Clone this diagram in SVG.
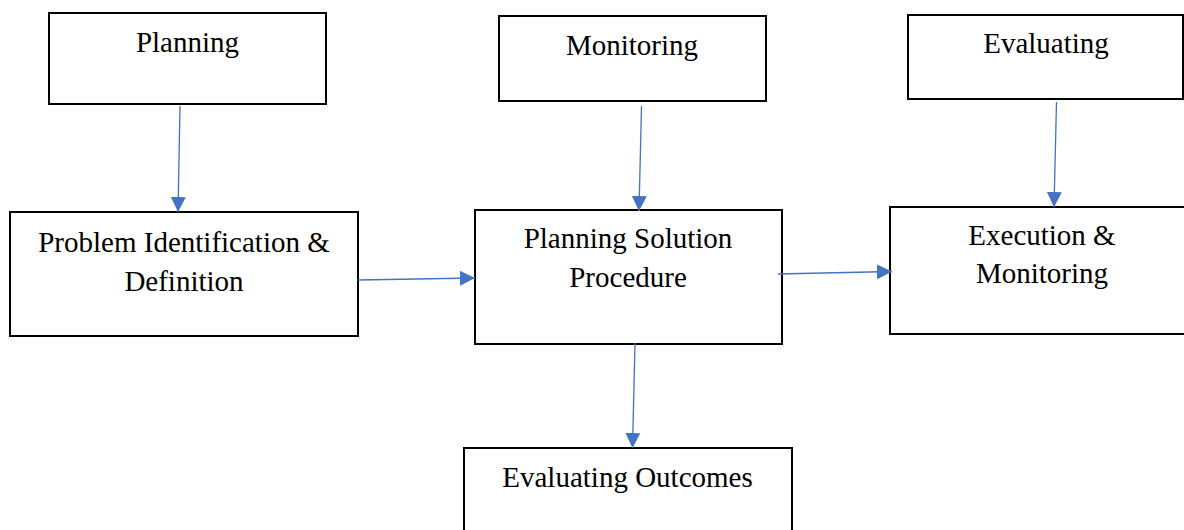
<svg xmlns="http://www.w3.org/2000/svg" width="1184" height="530" viewBox="0 0 1184 530">
  <style>
    .box { fill: #ffffff; stroke: #000000; stroke-width: 2; }
    .lbl { font-family: "Liberation Serif", "Times New Roman", serif; font-size: 29px; fill: #000000; text-anchor: middle; }
    .conn { stroke: #4472C4; stroke-width: 1.3; fill: none; marker-end: url(#arrow); }
  </style>
  <defs>
    <marker id="arrow" markerUnits="userSpaceOnUse" markerWidth="15" markerHeight="15" refX="15" refY="7.5" orient="auto">
      <path d="M0,0 L15,7.5 L0,15 Z" fill="#4472C4"/>
    </marker>
  </defs>
  <rect width="1184" height="530" fill="#ffffff"/>

  <g id="node-planning">
    <rect class="box" x="49" y="13" width="277" height="91"/>
    <text class="lbl" x="187.5" y="52">Planning</text>
  </g>
  <g id="node-monitoring">
    <rect class="box" x="499" y="16" width="267" height="85"/>
    <text class="lbl" x="632" y="55">Monitoring</text>
  </g>
  <g id="node-evaluating">
    <rect class="box" x="908" y="15" width="275" height="84"/>
    <text class="lbl" x="1046" y="53">Evaluating</text>
  </g>
  <g id="node-problem">
    <rect class="box" x="10" y="212" width="348" height="124"/>
    <text class="lbl" x="184" y="252">Problem Identification &amp;</text>
    <text class="lbl" x="184" y="291">Definition</text>
  </g>
  <g id="node-solution">
    <rect class="box" x="475" y="210" width="307" height="134"/>
    <text class="lbl" x="628" y="248">Planning Solution</text>
    <text class="lbl" x="628" y="287">Procedure</text>
  </g>
  <g id="node-execution">
    <rect class="box" x="890" y="207" width="310" height="127"/>
    <text class="lbl" x="1042" y="245">Execution &amp;</text>
    <text class="lbl" x="1042" y="283">Monitoring</text>
  </g>
  <g id="node-outcomes">
    <rect class="box" x="464" y="448" width="328" height="100"/>
    <text class="lbl" x="627.5" y="487">Evaluating Outcomes</text>
  </g>

  <g id="connectors">
    <line class="conn" x1="180" y1="106" x2="178" y2="212"/>
    <line class="conn" x1="641.5" y1="106" x2="639" y2="211"/>
    <line class="conn" x1="1056.5" y1="102" x2="1054" y2="207"/>
    <line class="conn" x1="358" y1="280" x2="475" y2="278"/>
    <line class="conn" x1="778" y1="274" x2="892" y2="271.5"/>
    <line class="conn" x1="635" y1="343" x2="632.5" y2="448"/>
  </g>
</svg>
